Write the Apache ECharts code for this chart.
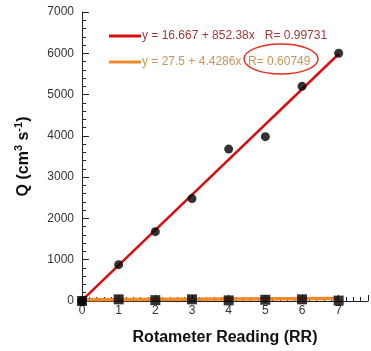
<!DOCTYPE html>
<html><head><meta charset="utf-8">
<script src="https://cdn.jsdelivr.net/npm/echarts@6/dist/echarts.min.js"></script>
<style>html,body{margin:0;padding:0;background:#fff}#c{width:371px;height:351px}</style>
</head><body><div id="c"></div>
<script>
var rrValues = [0, 1, 2, 3, 4, 5, 6, 7];
var qHigh = [0, 880, 1680, 2480, 3680, 3980, 5200, 6000];
var qLow = [0, 40, 20, 40, 15, 30, 40, 10];
var fitHighX = [0, 7];
var fitHighY = [16.667, 5983.3];
var fitLowX = [0, 7];
var fitLowY = [27.5, 58.5];
var legendHigh = 'y = 16.667 + 852.38x   R= 0.99731';
var legendLow = 'y = 27.5 + 4.4286x  R= 0.60749';

function pairs(xs, ys){ return xs.map(function(x,i){return [x, ys[i]];}); }

var chart = echarts.init(document.getElementById('c'));
var font = 'Liberation Sans, Arial, sans-serif';
chart.setOption({
  animation: false,
  grid: {left: 82, right: 3, top: 12, bottom: 40},
  legend: {
    orient: 'vertical', left: 104, top: 25, itemGap: 14,
    itemWidth: 32, itemHeight: 3, icon: 'rect',
    textStyle: {fontFamily: font, fontSize: 12, padding: [0,0,0,-4]},
    data: [
      {name: legendHigh, textStyle: {color: '#a53838'}},
      {name: legendLow, textStyle: {color: '#c8955a'}}
    ]
  },
  xAxis: {
    type: 'value', min: 0, max: 7.8, interval: 1,
    name: 'Rotameter Reading (RR)', nameLocation: 'middle', nameGap: 29,
    nameTextStyle: {fontFamily: font, fontSize: 16, fontWeight: 'bold', color: '#111'},
    axisLine: {lineStyle: {color: '#222', width: 1}},
    axisTick: {show: true, inside: true, length: 6, lineStyle: {color: '#222', width: 1}},
    minorTick: {show: true, splitNumber: 5, length: 4, lineStyle: {color: '#222', width: 1}},
    splitLine: {show: false},
    axisLabel: {fontFamily: font, fontSize: 12, color: '#333', margin: 4, showMaxLabel: false,
      formatter: function(v){ return v <= 7 ? String(v) : ''; }}
  },
  yAxis: {
    type: 'value', min: 0, max: 7000, interval: 1000,
    name: 'Q (cm{sup|3} s{sup|-1})', nameLocation: 'middle', nameGap: 48,
    nameTextStyle: {fontFamily: font, fontSize: 16, fontWeight: 'bold', color: '#111',
      rich: {sup: {fontFamily: font, fontSize: 11, fontWeight: 'bold', color: '#111', verticalAlign: 'top', padding: [0,0,10,0]}}},
    axisLine: {show: true, lineStyle: {color: '#222', width: 1}},
    axisTick: {show: true, inside: true, length: 7, lineStyle: {color: '#222', width: 1}},
    minorTick: {show: true, splitNumber: 5, length: 4, lineStyle: {color: '#222', width: 1}},
    splitLine: {show: false},
    axisLabel: {fontFamily: font, fontSize: 12, color: '#333', margin: 8,
      formatter: function(v){ return String(v); }}
  },
  series: [
    {name: legendLow, type: 'line', data: pairs(fitLowX, fitLowY), symbol: 'none',
      lineStyle: {color: '#f08a28', width: 3.5}, itemStyle: {color: '#f08a28'}, z: 2},
    {name: legendHigh, type: 'line', data: pairs(fitHighX, fitHighY), symbol: 'none',
      lineStyle: {color: '#d80f0f', width: 2.5}, itemStyle: {color: '#d80f0f'}, z: 2},
    {name: 'high', type: 'scatter', data: pairs(rrValues, qHigh), symbol: 'circle', symbolSize: 9,
      itemStyle: {color: '#000'}, z: 3},
    {name: 'low', type: 'scatter', data: pairs(rrValues, qLow), symbol: 'rect', symbolSize: 10,
      itemStyle: {color: '#000'}, z: 3}
  ],
  graphic: [
    {type: 'ellipse', shape: {cx: 281, cy: 59, rx: 37, ry: 15},
      style: {fill: 'none', stroke: '#ee2a1a', lineWidth: 1.5}, z: 10}
  ]
});
</script></body></html>
